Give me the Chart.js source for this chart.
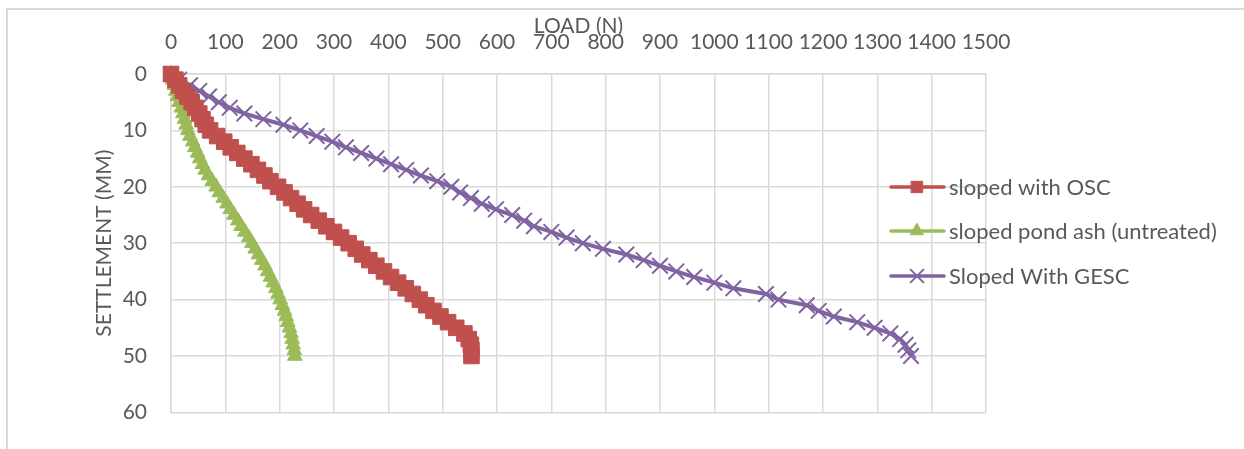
<!DOCTYPE html>
<html>
<head>
<meta charset="utf-8">
<script src="https://cdn.jsdelivr.net/npm/chart.js@4/dist/chart.umd.min.js"></script>
<style>
  html, body { margin: 0; padding: 0; background: #fff; width: 1244px; height: 449px; overflow: hidden; }
  #frame { position: absolute; left: 6px; top: 8px; width: 1260px; height: 470px;
           border-left: 2px solid #d9d9d9; border-top: 2px solid #d9d9d9; }
  #wrap { position: absolute; left: 0; top: 0; width: 1244px; height: 449px; }
</style>
</head>
<body>
<div id="frame"></div>
<div id="wrap"><canvas id="c" width="1244" height="449"></canvas></div>
<script>
// Settlement (mm) readings, shared by all three series
const settlement = [0,1,2,3,4,5,6,7,8,9,10,11,12,13,14,15,16,17,18,19,20,
                    21,22,23,24,25,26,27,28,29,30,31,32,33,34,35,36,37,38,39,40,
                    41,42,43,44,45,46,47,48,49,50];

// Load (N) for each series
const loadOSC = [0,8,15,22,30,38,45,52,58,64,72,85,98,110,122,135,148,160,172,183,197,
                 209,221,233,245,258,272,286,300,313,327,340,352,365,378,392,405,418,432,445,458,
                 470,483,496,510,525,540,548,552,553,553];

const loadPondAsh = [0,3,6,9,12,15,19,22,25,28,31,35,40,44,49,53,58,63,69,76,83,
                     89,96,103,109,116,123,129,136,143,149,155,161,167,173,178,183,188,193,197,201,
                     205,209,212,215,218,221,223,225,227,228];

const loadGESC = [0,15,35,52,70,88,108,135,170,207,238,268,297,322,350,378,405,433,460,490,516,
                  532,552,572,598,628,650,668,700,728,758,795,838,870,900,930,963,1000,1035,1095,1118,
                  1170,1192,1220,1263,1295,1324,1342,1352,1357,1362];

const seriesNames = ['sloped with OSC', 'sloped pond ash (untreated)', 'Sloped With GESC'];
const xTicksMax = 1500, xStep = 100;
const yTicksMax = 60, yStep = 10;

const FONT = 'Lato, "Open Sans", "DejaVu Sans", sans-serif';
const TXT = '#595959';
const GRID = '#d9d9d9';

function pts(loads) { return loads.map((v, i) => ({ x: v, y: settlement[i] })); }

const legendPlugin = {
  id: 'customLegend',
  afterDraw(chart) {
    const ctx = chart.ctx;
    const rows = [187, 231, 276];
    chart.data.datasets.forEach((ds, i) => {
      const y = rows[i];
      ctx.save();
      ctx.strokeStyle = ds.borderColor;
      ctx.lineWidth = 3.5;
      ctx.lineCap = 'round';
      ctx.beginPath(); ctx.moveTo(891, y); ctx.lineTo(944, y); ctx.stroke();
      ctx.fillStyle = ds.pointBackgroundColor;
      ctx.strokeStyle = ds.pointBorderColor;
      ctx.lineWidth = ds.pointBorderWidth;
      const r = i === 0 ? 8 : (i === 1 ? 7.5 : 9);
      Chart.helpers.drawPoint(ctx, { pointStyle: ds.pointStyle, radius: r,
                                     borderWidth: ds.pointBorderWidth, rotation: 0 }, 917, y);
      ctx.fillStyle = TXT;
      ctx.font = '22px ' + FONT;
      ctx.textBaseline = 'middle';
      ctx.textAlign = 'left';
      ctx.fillText(ds.label, 949, y + 1);
      ctx.restore();
    });
  }
};

const plain = v => String(v);

const ctx = document.getElementById('c').getContext('2d');
new Chart(ctx, {
  type: 'line',
  data: {
    datasets: [
      { label: seriesNames[0], data: pts(loadOSC), borderColor: '#c0504d', backgroundColor: '#c0504d',
        borderWidth: 4, pointStyle: 'rect', pointRadius: 11, pointBackgroundColor: '#c0504d',
        pointBorderColor: '#c0504d', pointBorderWidth: 1, clip: false, tension: 0 },
      { label: seriesNames[1], data: pts(loadPondAsh), borderColor: '#9bbb59', backgroundColor: '#9bbb59',
        borderWidth: 4, pointStyle: 'triangle', pointRadius: 8.5, pointBackgroundColor: '#9bbb59',
        pointBorderColor: '#9bbb59', pointBorderWidth: 1, clip: false, tension: 0 },
      { label: seriesNames[2], data: pts(loadGESC), borderColor: '#8064a2', backgroundColor: '#8064a2',
        borderWidth: 4, pointStyle: 'crossRot', pointRadius: 11, pointBackgroundColor: '#8064a2',
        pointBorderColor: '#8064a2', pointBorderWidth: 2, clip: false, tension: 0 }
    ]
  },
  options: {
    responsive: false,
    animation: false,
    layout: { padding: { left: 90, top: 10, right: 258, bottom: 31 } },
    plugins: { legend: { display: false }, tooltip: { enabled: false } },
    scales: {
      x: {
        type: 'linear', position: 'top', min: 0, max: xTicksMax,
        ticks: { stepSize: xStep, color: TXT, font: { family: FONT, size: 21 }, padding: 19,
                 maxRotation: 0, autoSkip: false, callback: plain },
        grid: { color: GRID, lineWidth: 1.5, drawTicks: false },
        border: { color: GRID, width: 1.5 },
        title: { display: true, text: 'LOAD (N)', color: TXT, font: { family: FONT, size: 21 },
                 padding: { top: 4, bottom: 0 } },
        afterFit(s) { s.height = 64; }
      },
      y: {
        type: 'linear', reverse: true, min: 0, max: yTicksMax,
        ticks: { stepSize: yStep, color: TXT, font: { family: FONT, size: 21 }, padding: 24, callback: plain },
        grid: { color: GRID, lineWidth: 1.5, drawTicks: false },
        border: { color: GRID, width: 1.5 },
        title: { display: true, text: 'SETTLEMENT (MM)', color: TXT, font: { family: FONT, size: 21 },
                 padding: { top: 2, bottom: 0 } },
        afterFit(s) { s.width = 81; }
      }
    }
  },
  plugins: [legendPlugin]
});
</script>
</body>
</html>
